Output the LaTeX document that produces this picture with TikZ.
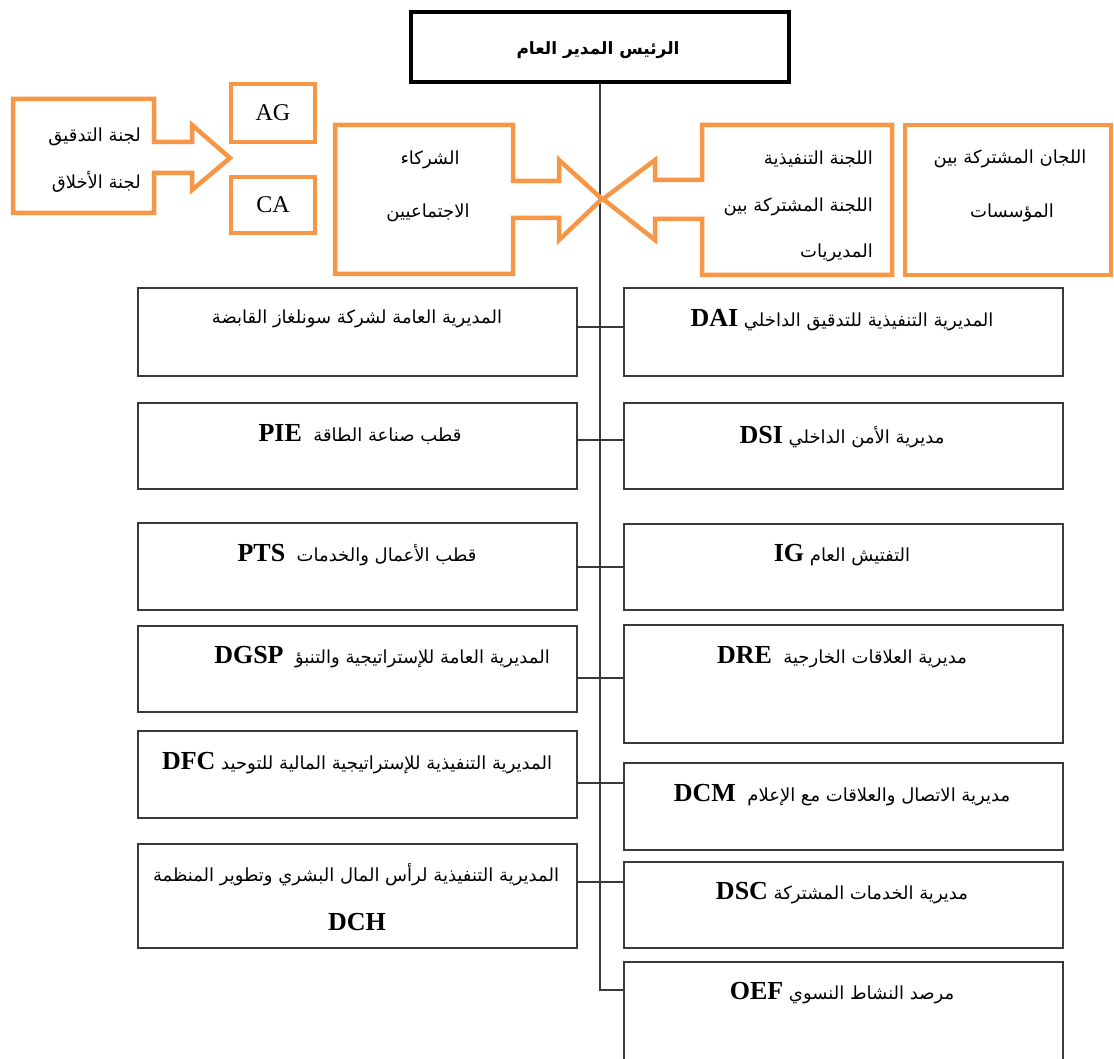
\documentclass[tikz,border=0pt]{standalone}
\usepackage{fontspec}
\setmainfont{Liberation Serif}
\newfontfamily\arabicfont[Script=Arabic]{DejaVu Sans}
\TeXXeTstate=1
\definecolor{calloutorange}{HTML}{F79646}
\definecolor{linegray}{HTML}{3A3A3A}
% bold Latin abbreviation inside a right-to-left line
\newcommand\abbr[1]{\beginL{\rmfamily\bfseries\fontsize{26}{30}\selectfont #1}\endL}

\begin{document}
\begin{tikzpicture}[x=1pt,y=-1pt,
  ar/.style={font=\arabicfont\fontsize{18}{22}\selectfont, inner sep=0pt},
  arbold/.style={font=\arabicfont\bfseries\fontsize{17}{22}\selectfont, inner sep=0pt},
  orgbox/.style={draw=linegray, line width=1.8pt, minimum width=439pt, anchor=north west, inner sep=0pt},
  smallbox/.style={draw=calloutorange, line width=4.5pt, minimum width=84pt, inner sep=0pt,
                   font=\rmfamily\fontsize{24}{28}\selectfont},
  orangeshape/.style={draw=calloutorange, line width=4.5pt, fill=white},
  link/.style={draw=linegray, line width=1.8pt},
]
\useasboundingbox (0,0) rectangle (1114,1059);
\clip (0,0) rectangle (1114,1059);

% general manager
\node[draw=black, line width=4.5pt, minimum width=378pt, minimum height=70pt] (top) at (600,47) {};
\node[arbold] (toptxt) at (598,50) {\beginR الرئيس المدير العام\endR};

% junctions on the main trunk
\coordinate (j1) at (600,327);
\coordinate (j2) at (600,440);
\coordinate (j3) at (600,567);
\coordinate (j4) at (600,678);
\coordinate (j5) at (600,783);
\coordinate (j6) at (600,882);
\coordinate (jend) at (600,990);

% directorates, left column
\node[orgbox, minimum height=88pt] (L1) at (137,287) {};
\node[orgbox, minimum height=86pt] (L2) at (137,402) {};
\node[orgbox, minimum height=87pt] (L3) at (137,522) {};
\node[orgbox, minimum height=86pt] (L4) at (137,625) {};
\node[orgbox, minimum height=87pt] (L5) at (137,730) {};
\node[orgbox, minimum height=104pt] (L6) at (137,843) {};

% directorates, right column
\node[orgbox, minimum height=88pt] (R1) at (623,287) {};
\node[orgbox, minimum height=86pt] (R2) at (623,402) {};
\node[orgbox, minimum height=86pt] (R3) at (623,523) {};
\node[orgbox, minimum height=118pt] (R4) at (623,624) {};
\node[orgbox, minimum height=87pt] (R5) at (623,762) {};
\node[orgbox, minimum height=86pt] (R6) at (623,861) {};
\node[orgbox, minimum height=130pt] (R7) at (623,961) {};

% trunk and branches
\draw[link] (top.south) -- (jend) -- (R7.west |- jend);
\draw[link] (L1.east |- j1) -- (R1.west |- j1);
\draw[link] (L2.east |- j2) -- (R2.west |- j2);
\draw[link] (L3.east |- j3) -- (R3.west |- j3);
\draw[link] (L4.east |- j4) -- (R4.west |- j4);
\draw[link] (L5.east |- j5) -- (R5.west |- j5);
\draw[link] (L6.east |- j6) -- (R6.west |- j6);

% texts of the left column
\node[ar] (L1t) at (357,319) {\beginR المديرية العامة لشركة سونلغاز القابضة\endR};
\node[ar] (L2t) at (360,435) {\beginR قطب صناعة الطاقة \ \abbr{PIE}\endR};
\node[ar] (L3t) at (357,555) {\beginR قطب الأعمال والخدمات \ \abbr{PTS}\endR};
\node[ar] (L4t) at (382,657) {\beginR المديرية العامة للإستراتيجية والتنبؤ \ \abbr{DGSP}\endR};
\node[ar] (L5t) at (357,763) {\beginR المديرية التنفيذية للإستراتيجية المالية للتوحيد \abbr{DFC}\endR};
\node[ar] (L6t) at (356,875) {\beginR المديرية التنفيذية لرأس المال البشري وتطوير المنظمة\endR};
\node[inner sep=0pt] (L6t2) at (357,922) {\abbr{DCH}};

% texts of the right column
\node[ar] (R1t) at (842,320) {\beginR المديرية التنفيذية للتدقيق الداخلي \abbr{DAI}\endR};
\node[ar] (R2t) at (842,437) {\beginR مديرية الأمن الداخلي \abbr{DSI}\endR};
\node[ar] (R3t) at (842,555) {\beginR التفتيش العام \abbr{IG}\endR};
\node[ar] (R4t) at (842,657) {\beginR مديرية العلاقات الخارجية \ \abbr{DRE}\endR};
\node[ar] (R5t) at (842,795) {\beginR مديرية الاتصال والعلاقات مع الإعلام \ \abbr{DCM}\endR};
\node[ar] (R6t) at (842,893) {\beginR مديرية الخدمات المشتركة \abbr{DSC}\endR};
\node[ar] (R7t) at (842,993) {\beginR مرصد النشاط النسوي \abbr{OEF}\endR};

% committees feeding the general assembly and the board
\draw[orangeshape] (13,99) -- (154,99) -- (154,142) -- (192,142) -- (192,125) -- (230,158)
  -- (192,190) -- (192,173) -- (154,173) -- (154,213) -- (13,213) -- cycle;
\node[ar, anchor=east] (audit) at (141,137) {\beginR لجنة التدقيق\endR};
\node[ar, anchor=east] (ethics) at (141,182) {\beginR لجنة الأخلاق\endR};
\node[smallbox, minimum height=58pt] (AG) at (273,113) {AG};
\node[smallbox, minimum height=56pt] (CA) at (273,205) {CA};

% social partners
\draw[orangeshape] (335,125) -- (513,125) -- (513,181) -- (559,181) -- (559,160) -- (602,199)
  -- (559,240) -- (559,218) -- (513,218) -- (513,274) -- (335,274) -- cycle;
\node[ar] (part1) at (430,160) {\beginR الشركاء\endR};
\node[ar] (part2) at (428,213) {\beginR الاجتماعيين\endR};

% executive committee
\draw[orangeshape] (892,125) -- (702,125) -- (702,180) -- (655,180) -- (655,160) -- (603,199)
  -- (655,240) -- (655,219) -- (702,219) -- (702,275) -- (892,275) -- cycle;
\node[ar, anchor=east] (exec1) at (873,159) {\beginR اللجنة التنفيذية\endR};
\node[ar, anchor=east] (exec2) at (873,207) {\beginR اللجنة المشتركة بين\endR};
\node[ar, anchor=east] (exec3) at (873,253) {\beginR المديريات\endR};

% inter-institution committees
\node[draw=calloutorange, line width=4.5pt, minimum width=206pt, minimum height=150pt] (inter) at (1008,200) {};
\node[ar] (inter1) at (1010,159) {\beginR اللجان المشتركة بين\endR};
\node[ar] (inter2) at (1012,213) {\beginR المؤسسات\endR};
\end{tikzpicture}
\end{document}
